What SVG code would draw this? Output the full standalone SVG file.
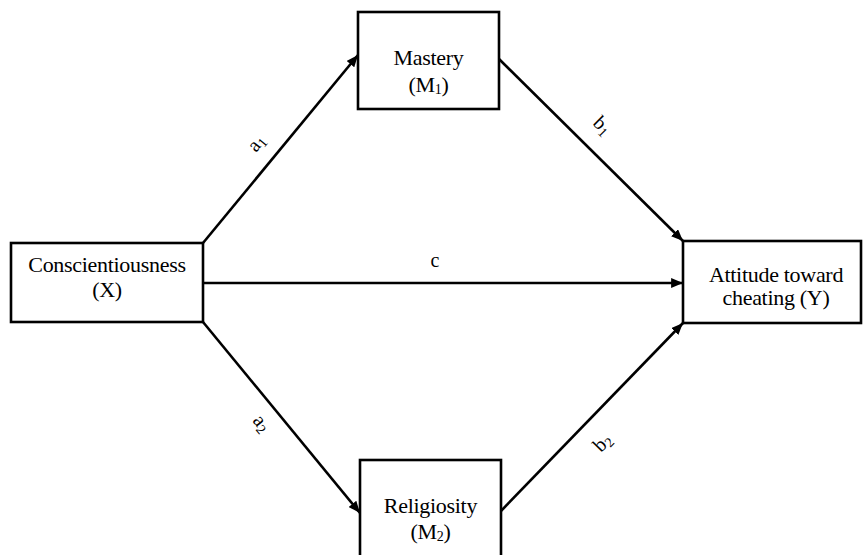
<svg xmlns="http://www.w3.org/2000/svg" width="864" height="555" viewBox="0 0 864 555">
<defs>
<style>
.box{fill:#fff;stroke:#000;stroke-width:2.6}
.t{font-family:"Liberation Serif","Times New Roman",serif;font-size:22px;letter-spacing:-0.3px;fill:#000;text-anchor:middle}
.lbl{font-family:"Liberation Serif","Times New Roman",serif;font-size:20px;fill:#000;text-anchor:middle}
.sub{font-size:14px}
.edge{stroke:#000;stroke-width:2.6;fill:none;marker-end:url(#ah)}
</style>
<marker id="ah" viewBox="0 0 12 10" refX="12" refY="5" markerWidth="4.6" markerHeight="3.8" markerUnits="strokeWidth" orient="auto">
<path d="M0,0 L12,5 L0,10 z" fill="#000"/>
</marker>
</defs>
<rect width="864" height="555" fill="#fff"/>
<g id="connectors">
<line class="edge" x1="203" y1="243" x2="358" y2="55"/>
<line class="edge" x1="203" y1="322" x2="360" y2="513"/>
<line class="edge" x1="499" y1="59" x2="683" y2="241"/>
<line class="edge" x1="500" y1="512" x2="683" y2="323"/>
<line class="edge" x1="203" y1="283" x2="683" y2="283"/>
<text class="lbl" transform="translate(261,147) rotate(-50.5)">a<tspan class="sub" dy="3">1</tspan></text>
<text class="lbl" transform="translate(257,427) rotate(50.5)">a<tspan class="sub" dy="3">2</tspan></text>
<text class="lbl" transform="translate(598,130) rotate(44.7)">b<tspan class="sub" dy="3">1</tspan></text>
<text class="lbl" transform="translate(607,447) rotate(-46)">b<tspan class="sub" dy="3">2</tspan></text>
<text class="lbl" x="435" y="267">c</text>
</g>
<g id="node-x">
<rect class="box" x="11" y="243" width="192" height="79"/>
<text class="t" x="107" y="272">Conscientiousness</text>
<text class="t" x="107" y="297">(X)</text>
</g>
<g id="node-m1">
<rect class="box" x="358" y="12" width="141" height="97"/>
<text class="t" x="428.5" y="65">Mastery</text>
<text class="t" x="428.5" y="92">(M<tspan class="sub" dy="2">1</tspan><tspan dy="-2">)</tspan></text>
</g>
<g id="node-m2">
<rect class="box" x="360" y="460" width="141" height="110"/>
<text class="t" x="430.5" y="513">Religiosity</text>
<text class="t" x="430.5" y="539">(M<tspan class="sub" dy="2">2</tspan><tspan dy="-2">)</tspan></text>
</g>
<g id="node-y">
<rect class="box" x="683" y="241" width="178" height="82"/>
<text class="t" x="776" y="282">Attitude toward</text>
<text class="t" x="776" y="305">cheating (Y)</text>
</g>
</svg>
